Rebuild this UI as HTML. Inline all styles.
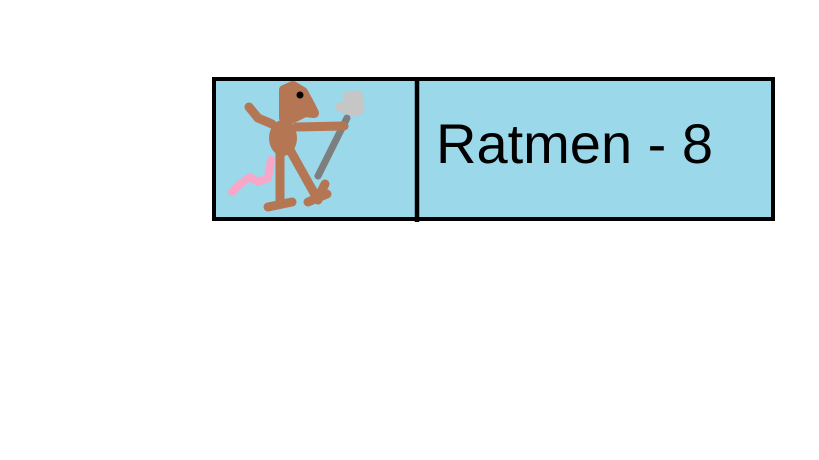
<!DOCTYPE html>
<html><head><meta charset="utf-8"><style>
html,body{margin:0;padding:0;background:#fff;width:819px;height:460px;overflow:hidden}
svg{display:block}
</style></head><body>
<svg width="819" height="460" viewBox="0 0 819 460">
<rect x="214" y="79" width="559" height="140" fill="#9bd8ea" stroke="#000" stroke-width="4"/>
<line x1="417" y1="77" x2="417" y2="222" stroke="#000" stroke-width="4.5"/>
<g stroke-linecap="round" stroke-linejoin="round" fill="none">
<path d="M271,160 L268,178 L258,182 L250,177 L240,184 L232,192" stroke="#f7a8c8" stroke-width="8"/>
<path d="M318,176 L347,118" stroke="#7e7e7e" stroke-width="7"/>
<path d="M340,107 L352,103 L347,96 L358,95 L360,110 L353,112 Z" stroke="#c6c6c6" stroke-width="9" fill="#c6c6c6"/>
<path d="M249,107 L258,118 L272,124" stroke="#b47653" stroke-width="9"/>
<path d="M296,127 L344,126" stroke="#b47653" stroke-width="9"/>
<ellipse cx="283" cy="138" rx="14" ry="18" fill="#b47653"/>
<path d="M284,118 L284,90 L293,86 L303,92 L310,105 L314,113 L305,112 L295,117 L288,120" fill="#b47653" stroke="#b47653" stroke-width="10"/>
<path d="M280,150 L280,204 M268,207 L292,202" stroke="#b47653" stroke-width="9"/>
<path d="M290,150 L318,200 M308,202 L327,194 M318,198 L325,184" stroke="#b47653" stroke-width="9"/>
<circle cx="300" cy="95" r="3.5" fill="#000"/>
</g>
<text x="436" y="163" font-family="Liberation Sans, sans-serif" font-size="56" fill="#000">Ratmen - 8</text>
</svg>
</body></html>
